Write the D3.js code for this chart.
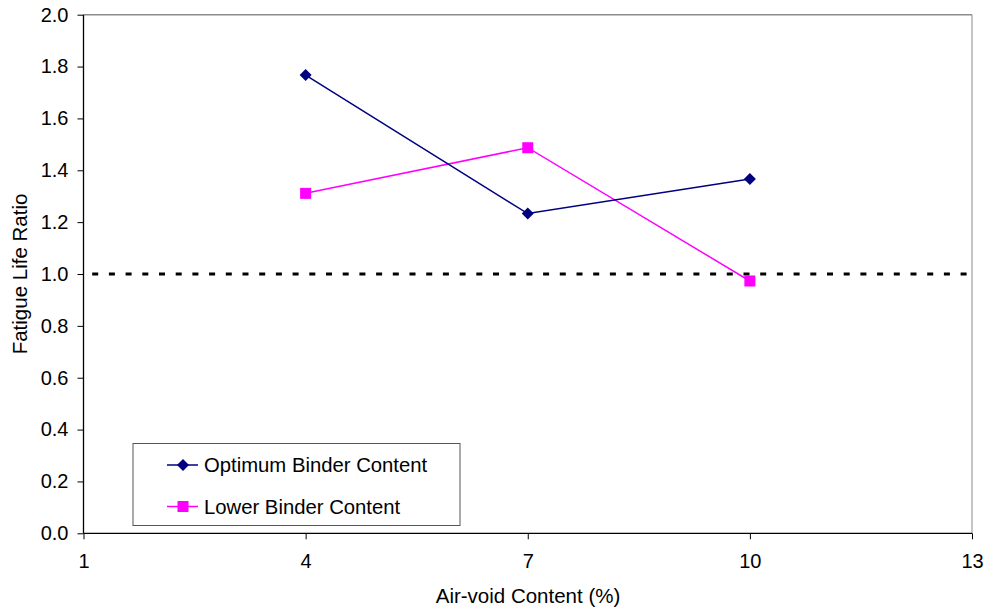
<!DOCTYPE html>
<html><head><meta charset="utf-8">
<script src="https://cdn.jsdelivr.net/npm/d3@7"></script>
<style>body{margin:0;background:#fff}svg{display:block}text{font-family:"Liberation Sans",Arial,sans-serif}</style>
</head><body><svg id="c" width="990" height="615"></svg>
<script>
const airVoid = [4, 7, 10];
const optimumBinder = [1.767, 1.233, 1.366];
const lowerBinder = [1.311, 1.487, 0.973];
const xTicks = [1, 4, 7, 10, 13];
const yTicks = [0, 0.2, 0.4, 0.6, 0.8, 1.0, 1.2, 1.4, 1.6, 1.8, 2.0];
const referenceLevel = 1.0;
const seriesNames = ["Optimum Binder Content", "Lower Binder Content"];

const svg = d3.select("#c");
const L = 83.5, R = 972, T = 14.7, B = 533.3;
const x = d3.scaleLinear().domain([1, 13]).range([L, R]);
const y = d3.scaleLinear().domain([0, 2]).range([B, T]);

// top & right border
svg.append("line").attr("x1", L).attr("x2", R).attr("y1", y(2)).attr("y2", y(2)).attr("stroke", "#8c8c8c").attr("stroke-width", 1.5);
svg.append("line").attr("x1", R).attr("x2", R).attr("y1", y(2)).attr("y2", B).attr("stroke", "#8c8c8c").attr("stroke-width", 1);

const yAxis = svg.append("g").attr("transform", `translate(${L},0)`)
  .call(d3.axisLeft(y).tickValues(yTicks).tickFormat(d3.format(".1f")).tickSize(6).tickPadding(9));
const xAxis = svg.append("g").attr("transform", `translate(0,${B})`)
  .call(d3.axisBottom(x).tickValues(xTicks).tickFormat(d3.format("d")).tickSize(6).tickPadding(14.5));
[yAxis, xAxis].forEach(a => {
  a.select(".domain").attr("stroke", "#000").attr("stroke-width", 1.3);
  a.selectAll(".tick line").attr("stroke", "#000");
  a.selectAll("text").attr("font-size", 20).attr("fill", "#000").style("font-family", '"Liberation Sans",Arial,sans-serif');
});
xAxis.select(".domain").attr("d", `M${L},0H${R}`);
yAxis.select(".domain").attr("d", `M0,${T}V${B}`);

// reference dashed line
svg.append("line").attr("x1", L).attr("x2", R).attr("y1", y(referenceLevel)).attr("y2", y(referenceLevel))
  .attr("stroke", "#000").attr("stroke-width", 3).attr("stroke-dasharray", "6,10.7").attr("stroke-dashoffset", -8.7);

const line = d3.line().x(d => x(d[0])).y(d => y(d[1]));
const opt = airVoid.map((v, i) => [v, optimumBinder[i]]);
const low = airVoid.map((v, i) => [v, lowerBinder[i]]);

svg.append("path").attr("d", line(low)).attr("fill", "none").attr("stroke", "#ff00ff").attr("stroke-width", 1.5);
svg.append("path").attr("d", line(opt)).attr("fill", "none").attr("stroke", "#000080").attr("stroke-width", 1.5);

const diamond = (cx, cy, s) => `M${cx},${cy - s}L${cx + s},${cy}L${cx},${cy + s}L${cx - s},${cy}Z`;
svg.selectAll(".dm").data(opt).join("path").attr("d", d => diamond(x(d[0]), y(d[1]), 6)).attr("fill", "#000080");
svg.selectAll(".sq").data(low).join("rect").attr("x", d => x(d[0]) - 5.5).attr("y", d => y(d[1]) - 5.5)
  .attr("width", 11).attr("height", 11).attr("fill", "#ff00ff");

// axis titles
svg.append("text").attr("x", 528).attr("y", 603).attr("text-anchor", "middle").attr("font-size", 20.5).text("Air-void Content (%)");
svg.append("text").attr("transform", `translate(26.5,${(T + B) / 2}) rotate(-90)`).attr("text-anchor", "middle").attr("font-size", 20.5).text("Fatigue Life Ratio");

// legend
const lg = svg.append("g");
lg.append("rect").attr("x", 133).attr("y", 443.5).attr("width", 327).attr("height", 82).attr("fill", "#fff").attr("stroke", "#555").attr("stroke-width", 1);
const rows = [465, 506.5];
lg.append("line").attr("x1", 167).attr("x2", 198).attr("y1", rows[0]).attr("y2", rows[0]).attr("stroke", "#000080").attr("stroke-width", 1.5);
lg.append("path").attr("d", diamond(183, rows[0], 6)).attr("fill", "#000080");
lg.append("line").attr("x1", 167).attr("x2", 198).attr("y1", rows[1]).attr("y2", rows[1]).attr("stroke", "#ff00ff").attr("stroke-width", 1.5);
lg.append("rect").attr("x", 177.5).attr("y", rows[1] - 5.5).attr("width", 11).attr("height", 11).attr("fill", "#ff00ff");
seriesNames.forEach((n, i) => lg.append("text").attr("x", 204).attr("y", rows[i] + 7).attr("font-size", 20.3).text(n));
</script></body></html>
